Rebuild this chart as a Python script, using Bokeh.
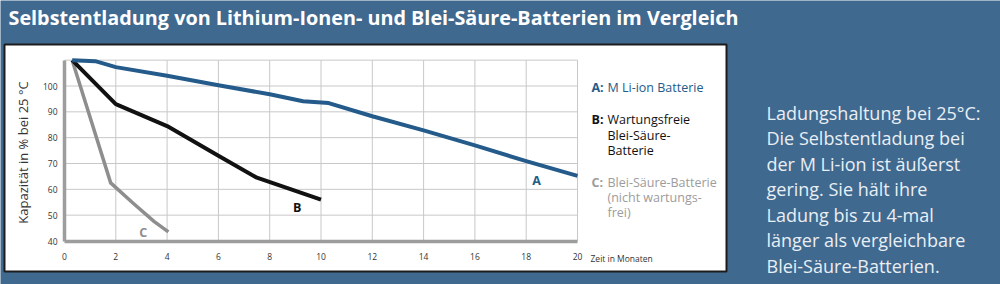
from math import pi

from bokeh.embed import file_html
from bokeh.models import BoxAnnotation, FixedTicker, Label, LinearAxis, Range1d
from bokeh.plotting import figure
from bokeh.resources import INLINE

# Capacity (%) over time (months) at 25 °C
months_a = [0.3, 1.2, 2.0, 4.0, 6.0, 8.0, 9.3, 10.3, 12.0, 14.0, 16.0, 18.0, 20.0]
capacity_a = [110, 109.6, 107.3, 104.0, 100.3, 96.8, 94.1, 93.4, 88.3, 82.8, 77.0, 70.9, 65.2]

months_b = [0.3, 2.0, 4.0, 6.0, 7.5, 10.0]
capacity_b = [110, 93.0, 84.5, 73.0, 64.5, 56.0]

months_c = [0.3, 1.8, 2.7, 3.5, 4.05]
capacity_c = [110, 62.5, 54.4, 47.5, 43.5]

x_ticks = [0, 2, 4, 6, 8, 10, 12, 14, 16, 18, 20]
y_ticks = [40, 50, 60, 70, 80, 90, 100]
y_grid = [40, 50, 60, 70, 80, 90, 100, 110]

curve_labels = ["A", "B", "C"]
curve_label_x = [18.4, 9.07, 3.07]
curve_label_y = [63.3, 53.0, 43.3]

title = "Selbstentladung von Lithium-Ionen- und Blei-Säure-Batterien im Vergleich"
side_lines = [
    "Ladungshaltung bei 25\u00b0C:",
    "Die Selbstentladung bei",
    "der M Li-ion ist äußerst",
    "gering. Sie hält ihre",
    "Ladung bis zu 4-mal",
    "länger als vergleichbare",
    "Blei-Säure-Batterien.",
]

BG = "#40698f"
BLUE = "#245b8a"
BLACK = "#111111"
GREY = "#8e8e8e"
GREY_TXT = "#9c9c9c"
GRID = "#c8c8c8"
AXIS = "#9d9d9d"
FONT = "Open Sans"

W, H = 1000, 284

# linear mapping between months/percent and canvas pixels
X0_PX, X_SCALE = 64.0, 25.65
Y0_PX, Y_SCALE = 240.5, 155.0 / 60.0

x_range = Range1d((0 - X0_PX) / X_SCALE, (W - X0_PX) / X_SCALE)
y_range = Range1d(40 - (H - Y0_PX) / Y_SCALE, 40 + Y0_PX / Y_SCALE)


def at(px, py):
    """Canvas pixel position -> data coordinates."""
    return (px - X0_PX) / X_SCALE, 40 + (Y0_PX - py) / Y_SCALE


p = figure(
    width=W, height=H,
    x_range=x_range, y_range=y_range,
    x_axis_location=None, y_axis_location=None,
    toolbar_location=None, output_backend="svg",
    min_border=0,
)
p.border_fill_color = BG
p.background_fill_color = BG
p.outline_line_color = None
p.grid.visible = False

# white chart panel
(pl, pt), (pr, pb) = at(4, 44), at(726, 271)
p.add_layout(BoxAnnotation(left=pl, right=pr, top=pt, bottom=pb, level="underlay",
                           fill_color="white", fill_alpha=1.0,
                           line_color="#1c1c1c", line_width=2, line_alpha=1.0))

# grid box
p.segment(x0=x_ticks, y0=[40] * len(x_ticks), x1=x_ticks, y1=[110] * len(x_ticks),
          line_color=GRID, line_width=1)
p.segment(x0=[0] * len(y_grid), y0=y_grid, x1=[20] * len(y_grid), y1=y_grid,
          line_color=GRID, line_width=1)

# axes placed inside the frame
yaxis = LinearAxis(fixed_location=0, bounds=(40, 110), ticker=FixedTicker(ticks=y_ticks))
xaxis = LinearAxis(fixed_location=40, bounds=(0, 20), ticker=FixedTicker(ticks=x_ticks))
for ax in (xaxis, yaxis):
    ax.axis_line_color = AXIS
    ax.axis_line_width = 3.5
    ax.major_tick_line_color = None
    ax.minor_tick_line_color = None
    ax.major_tick_out = 0
    ax.major_tick_in = 0
    ax.major_label_text_color = "#333333"
    ax.major_label_text_font = FONT
    ax.major_label_text_font_size = "8.5px"
yaxis.major_label_standoff = 7
xaxis.major_label_standoff = 12
p.add_layout(yaxis, "left")
p.add_layout(xaxis, "below")

# curves
p.line(months_c, capacity_c, line_color=GREY, line_width=3.5, line_join="round")
p.line(months_b, capacity_b, line_color=BLACK, line_width=4, line_join="round")
p.line(months_a, capacity_a, line_color=BLUE, line_width=4, line_join="round")

for name, lx, ly, col in zip(curve_labels, curve_label_x, curve_label_y, [BLUE, BLACK, GREY]):
    p.add_layout(Label(x=lx, y=ly, text=name, text_color=col, text_font=FONT,
                       text_font_style="bold", text_font_size="12.5px",
                       text_align="center", text_baseline="middle"))


def put(px, py, text, color, size, style="normal", align="left", angle=0.0):
    x, y = at(px, py)
    p.add_layout(Label(x=x, y=y, text=text, text_color=color, text_font=FONT,
                       text_font_size=size, text_font_style=style,
                       text_align=align, text_baseline="middle", angle=angle))


# title and axis captions
put(8, 17, title, "white", "19.8px", style="bold")
put(22, 152, "Kapazität in % bei 25 °C", "#333333", "13px", align="center", angle=pi / 2)
put(590, 258, "Zeit in Monaten", "#333333", "8.5px")

# legend
put(591, 87, "A:", BLUE, "12.5px", style="bold")
put(607, 87, "M Li-ion Batterie", BLUE, "12.5px")
put(591, 119, "B:", BLACK, "12.5px", style="bold")
for i, t in enumerate(["Wartungsfreie", "Blei-Säure-", "Batterie"]):
    put(607, 119 + i * 15.5, t, BLACK, "12.5px")
put(591, 182, "C:", GREY_TXT, "12.5px", style="bold")
for i, t in enumerate(["Blei-Säure-Batterie", "(nicht wartungs-", "frei)"]):
    put(607, 182 + i * 15, t, GREY_TXT, "12.5px")

# side note
for i, t in enumerate(side_lines):
    put(766, 112 + i * 25.5, t, "#e9eff5", "18px")

open("out.html", "w").write(file_html(p, INLINE))
